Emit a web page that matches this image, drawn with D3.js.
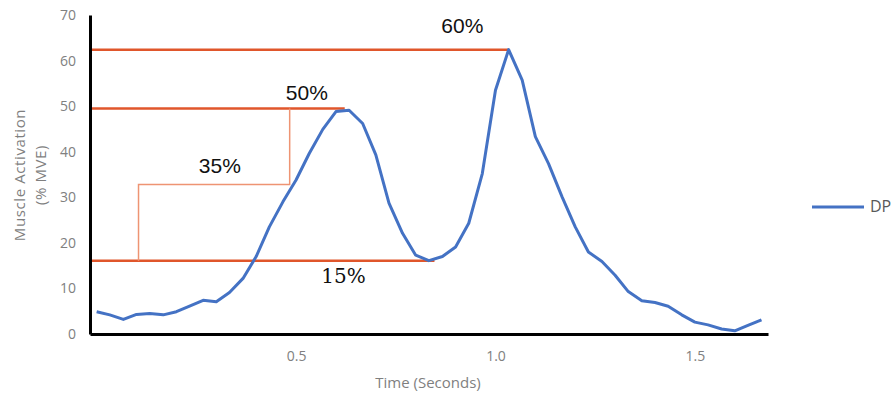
<!DOCTYPE html>
<html>
<head>
<meta charset="utf-8">
<script src="https://cdn.jsdelivr.net/npm/d3@7"></script>
<style>
  body { margin: 0; background: #fff; }
  svg { display: block; }
  .tick text { fill: #808080; font-family: "Open Sans", sans-serif; font-size: 14px; }
</style>
</head>
<body>
<div id="chart"></div>
<script>
// sampled time (s) and muscle activation (% MVE) for DP
var times = [0, 0.033, 0.067, 0.1, 0.133, 0.167, 0.2, 0.233, 0.267, 0.3,
  0.333, 0.367, 0.4, 0.433, 0.467, 0.5, 0.533, 0.567, 0.6, 0.633,
  0.667, 0.7, 0.733, 0.767, 0.8, 0.833, 0.867, 0.9, 0.933, 0.967,
  1.0, 1.033, 1.067, 1.1, 1.133, 1.167, 1.2, 1.233, 1.267, 1.3,
  1.333, 1.367, 1.4, 1.433, 1.467, 1.5, 1.533, 1.567, 1.6, 1.633, 1.667];
var activation = [4.9, 4.2, 3.2, 4.3, 4.5, 4.2, 4.9, 6.1, 7.4, 7.1,
  9.1, 12.2, 17.0, 23.5, 29.0, 33.8, 39.6, 44.9, 48.8, 49.1,
  46.2, 39.3, 28.7, 22.1, 17.3, 16.1, 17.0, 19.1, 24.3, 35.2,
  53.5, 62.4, 55.7, 43.3, 37.4, 30.1, 23.5, 18.0, 15.9, 12.9,
  9.3, 7.3, 6.9, 6.1, 4.2, 2.6, 2.0, 1.1, 0.7, 1.9, 3.1];
var xTicks = [0.5, 1.0, 1.5];
var yTicks = [0, 10, 20, 30, 40, 50, 60, 70];

// reference levels drawn from the y axis to the curve
var levelValues = [62.4, 49.5, 16.1];
var levelEnds = [1.033, 0.622, 0.847];
// thin step between the 50% and 15% levels
var stepLevel = 32.8, stepLeft = 0.105, stepRight = 0.484;
// annotation texts (time, value of baseline)
var noteTexts = ["60%", "50%", "35%", "15%"];
var noteTimes = [0.917, 0.527, 0.309, 0.619];
var noteValues = [66.0, 51.3, 35.3, 11.2];

var width = 892, height = 395;
var x = d3.scaleLinear().domain([-1 / 60, 50.5 / 30]).range([90, 768]);
var y = d3.scaleLinear().domain([0, 70]).range([334, 15]);

var svg = d3.select("#chart").append("svg")
    .attr("width", width)
    .attr("height", height);

var data = times.map(function(t, i) { return { t: t, v: activation[i] }; });

// reference lines
var x0 = x.range()[0];
var orange = "#E0562B", orangeLight = "#EE9473";
levelValues.forEach(function(v, i) {
  svg.append("line")
      .attr("x1", x0).attr("x2", x(levelEnds[i]))
      .attr("y1", y(v)).attr("y2", y(v))
      .attr("stroke", orange).attr("stroke-width", 2.5);
});
svg.append("path")
    .attr("fill", "none")
    .attr("stroke", orangeLight)
    .attr("stroke-width", 1.5)
    .attr("d", "M" + x(stepRight) + "," + y(levelValues[1]) +
               "V" + y(stepLevel) + "H" + x(stepLeft) + "V" + y(levelValues[2]));

// curve
var line = d3.line().x(function(d) { return x(d.t); }).y(function(d) { return y(d.v); });
svg.append("path")
    .datum(data)
    .attr("fill", "none")
    .attr("stroke", "#4472C4")
    .attr("stroke-width", 3)
    .attr("stroke-linejoin", "round")
    .attr("d", line);

// axes
svg.append("g")
    .attr("transform", "translate(" + x0 + ",0)")
    .call(d3.axisLeft(y).tickValues(yTicks).tickSize(0).tickPadding(14));
svg.append("g")
    .attr("transform", "translate(0," + y(0) + ")")
    .call(d3.axisBottom(x).tickValues(xTicks).tickFormat(d3.format(".1f")).tickSize(0).tickPadding(17));
svg.selectAll(".domain").attr("stroke", "#000").attr("stroke-width", 3);

// notes
noteTexts.forEach(function(s, i) {
  svg.append("text")
      .attr("x", x(noteTimes[i]))
      .attr("y", y(noteValues[i]))
      .attr("text-anchor", "middle")
      .attr("fill", "#111")
      .style("font-family", s === "15%" ? "'DejaVu Serif', serif" : "'Liberation Sans', Arial, sans-serif")
      .style("font-size", s === "15%" ? "20px" : "21px")
      .text(s);
});

// axis titles
svg.append("text")
    .attr("x", 428).attr("y", 388)
    .attr("text-anchor", "middle")
    .attr("fill", "#7f7f7f")
    .style("font-family", "'Open Sans', sans-serif")
    .style("font-size", "15px")
    .text("Time (Seconds)");
var yTitle = svg.append("text")
    .attr("transform", "translate(0,175) rotate(-90)")
    .attr("text-anchor", "middle")
    .attr("fill", "#7f7f7f")
    .style("font-family", "'Open Sans', sans-serif")
    .style("font-size", "15px")
    .style("letter-spacing", "0.6px");
yTitle.append("tspan").attr("x", 0).attr("y", 25).text("Muscle Activation");
yTitle.append("tspan").attr("x", 0).attr("y", 46).text("(% MVE)");

// legend
svg.append("line")
    .attr("x1", 812).attr("x2", 864).attr("y1", 207).attr("y2", 207)
    .attr("stroke", "#4472C4").attr("stroke-width", 3);
svg.append("text")
    .attr("x", 870).attr("y", 212)
    .attr("fill", "#595959")
    .style("font-family", "'Open Sans', sans-serif")
    .style("font-size", "16px")
    .text("DP");
</script>
</body>
</html>
